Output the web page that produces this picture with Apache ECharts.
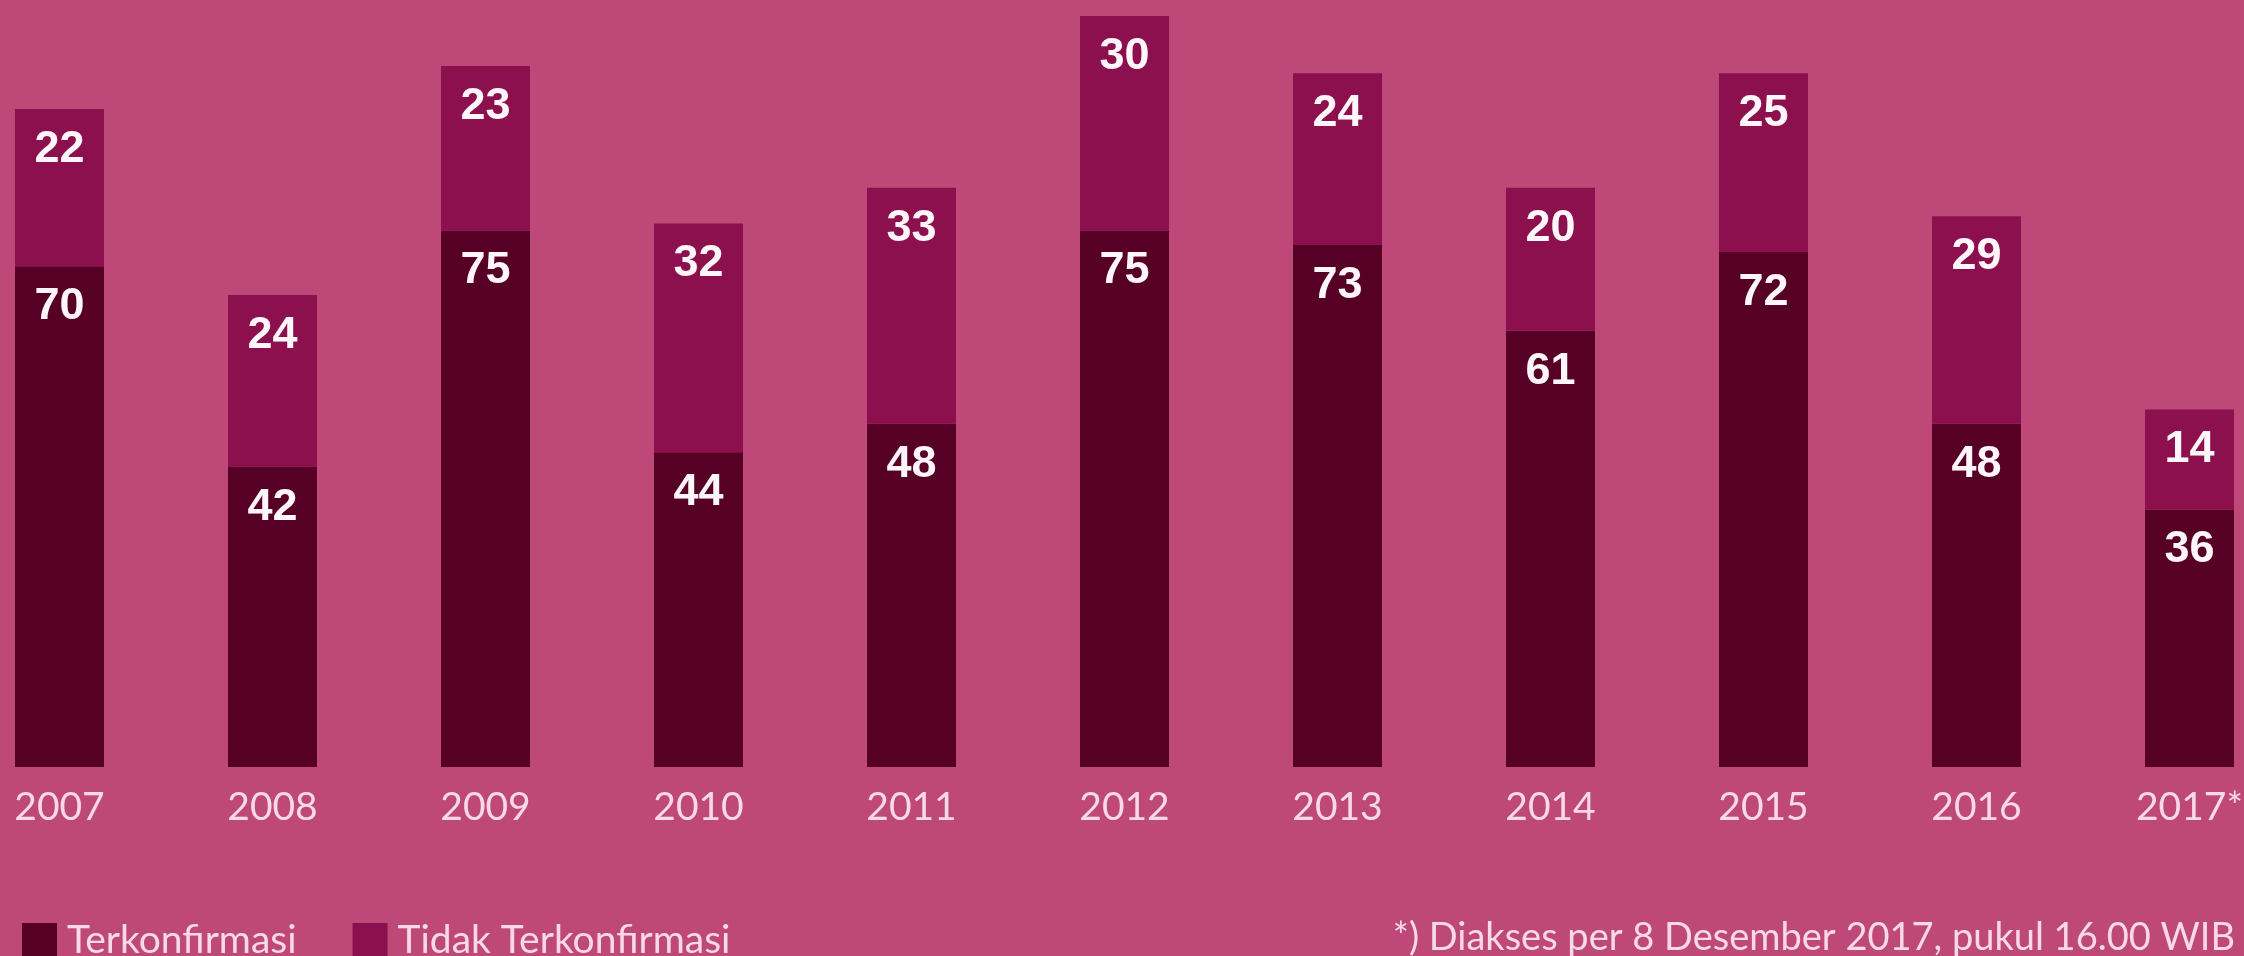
<!DOCTYPE html>
<html>
<head>
<meta charset="utf-8">
<style>
  html, body { margin: 0; padding: 0; background: #BE4878; overflow: hidden; }
  /* the chart is wider than the window: first and last category bands run past the edges */
  #chart { width: 2343px; height: 956px; margin-left: -47px; }
</style>
<script src="https://cdn.jsdelivr.net/npm/echarts@6/dist/echarts.min.js"></script>
</head>
<body>
<div id="chart"></div>
<script>
// tahun (kategori)
const years = ['2007', '2008', '2009', '2010', '2011', '2012', '2013', '2014', '2015', '2016', '2017*'];
// jumlah kasus
const terkonfirmasi = [70, 42, 75, 44, 48, 75, 73, 61, 72, 48, 36];
const tidakTerkonfirmasi = [22, 24, 23, 32, 33, 30, 24, 20, 25, 29, 14];
const footnote = '*) Diakses per 8 Desember 2017, pukul 16.00 WIB';

const bg = '#BE4878';
const darkColor = '#560026';
const midColor = '#8C0F4E';
const textPink = '#F9D9E7';

let myChart = echarts.init(document.getElementById('chart'));

const valueLabel = {
    show: true,
    position: 'insideTop',
    distance: 18,
    color: '#FFF6FA',
    fontFamily: '"Liberation Sans", Arial, sans-serif',
    fontWeight: 'bold',
    fontSize: 45
};

let option = {
    backgroundColor: bg,
    animation: false,
    grid: {
        left: 0,
        right: 0,
        top: 16,
        bottom: 189,
        containLabel: false
    },
    xAxis: {
        type: 'category',
        data: years,
        axisLine: { show: false },
        axisTick: { show: false },
        axisLabel: {
            color: textPink,
            fontFamily: 'Lato, sans-serif',
            fontSize: 39,
            margin: 21
        }
    },
    yAxis: {
        type: 'value',
        min: 0,
        max: 105,
        show: false,
        splitLine: { show: false }
    },
    legend: {
        left: 64,
        top: 916,
        itemWidth: 35,
        itemHeight: 35,
        itemGap: 56,
        icon: 'rect',
        textStyle: {
            color: textPink,
            fontFamily: 'Lato, sans-serif',
            fontSize: 39,
            padding: [0, 0, 0, 5]
        },
        data: ['Terkonfirmasi', 'Tidak Terkonfirmasi']
    },
    graphic: [{
        type: 'text',
        right: 61,
        top: 919,
        style: {
            text: footnote,
            fill: textPink,
            font: '38px Lato, sans-serif'
        }
    }],
    series: [
        {
            name: 'Terkonfirmasi',
            type: 'bar',
            stack: 'total',
            barWidth: 89,
            data: terkonfirmasi,
            itemStyle: { color: darkColor },
            label: valueLabel
        },
        {
            name: 'Tidak Terkonfirmasi',
            type: 'bar',
            stack: 'total',
            barWidth: 89,
            data: tidakTerkonfirmasi,
            itemStyle: { color: midColor },
            label: valueLabel
        }
    ]
};
myChart.setOption(option);
</script>
</body>
</html>
